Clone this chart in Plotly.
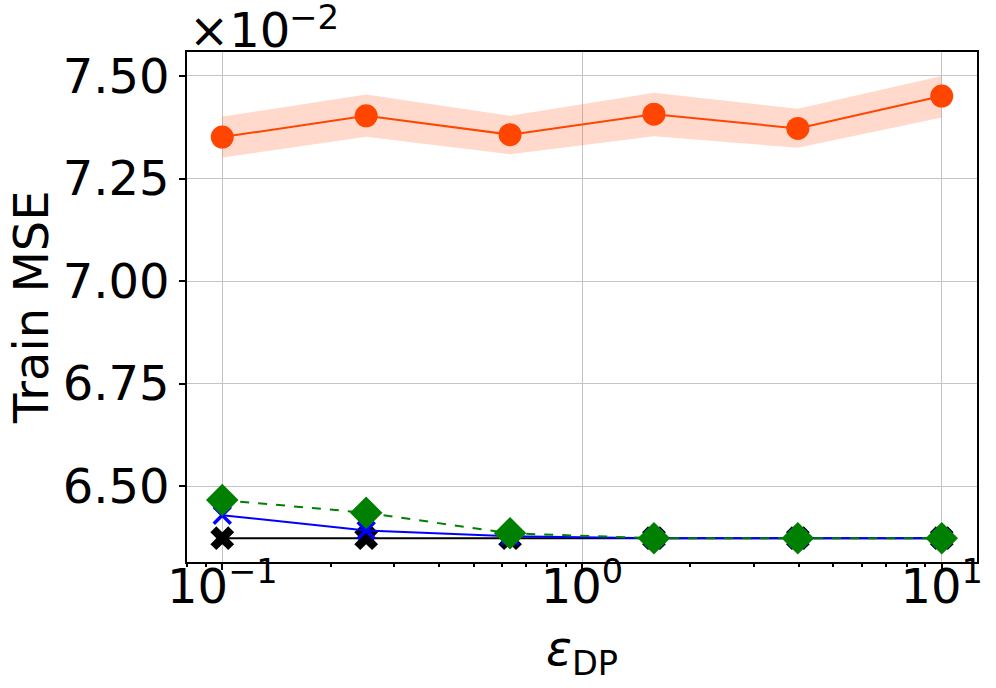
import plotly.graph_objs as go

# Visualization parameters
FONT_SIZE = 48
FIG_WIDTH = 996
FIG_HEIGHT = 688
GRID_COLOR = "#c4c4c4"

# Data (MSE in units of 1e-2)
eps_dp = [0.1, 0.2512, 0.631, 1.585, 3.981, 10.0]
mse_orange = [7.351, 7.403, 7.357, 7.407, 7.372, 7.451]
mse_orange_low = [7.301, 7.352, 7.309, 7.353, 7.325, 7.399]
mse_orange_high = [7.401, 7.455, 7.403, 7.459, 7.420, 7.500]
mse_black = [6.373, 6.373, 6.373, 6.373, 6.373, 6.373]
mse_blue = [6.429, 6.392, 6.378, 6.373, 6.373, 6.373]
mse_green = [6.466, 6.435, 6.385, 6.373, 6.373, 6.373]

y_ticks = [6.50, 6.75, 7.00, 7.25, 7.50]
x_ticks = [0.1, 1, 10]
x_tick_labels = ["10<sup>\u22121</sup>", "10<sup>0</sup>", "10<sup>1</sup>"]
x_minor = [0.08, 0.09, 0.2, 0.3, 0.4, 0.5, 0.6, 0.7, 0.8, 0.9,
           2, 3, 4, 5, 6, 7, 8, 9]


fig = go.Figure()

# shaded band for the orange series
fig.add_trace(go.Scatter(x=eps_dp, y=mse_orange_high, mode="lines",
                         line=dict(width=0), showlegend=False, hoverinfo="skip"))
fig.add_trace(go.Scatter(x=eps_dp, y=mse_orange_low, mode="lines",
                         line=dict(width=0), fill="tonexty",
                         fillcolor="rgba(255,69,0,0.2)", showlegend=False, hoverinfo="skip"))

fig.add_trace(go.Scatter(x=eps_dp, y=mse_orange, mode="lines+markers",
                         line=dict(color="#ff4500", width=2),
                         marker=dict(symbol="circle", size=23, color="#ff4500")))
fig.add_trace(go.Scatter(x=eps_dp, y=mse_black, mode="lines+markers",
                         line=dict(color="black", width=2),
                         marker=dict(symbol="x", size=21, color="black", line=dict(width=0))))
fig.add_trace(go.Scatter(x=eps_dp, y=mse_blue, mode="lines+markers",
                         line=dict(color="#0000ff", width=2),
                         marker=dict(symbol="x-thin", size=17,
                                     line=dict(color="#0000ff", width=3.5))))
fig.add_trace(go.Scatter(x=eps_dp, y=mse_green, mode="lines+markers",
                         line=dict(color="#008000", width=2, dash="dash"),
                         marker=dict(symbol="diamond", size=25, color="#008000")))

fig.update_xaxes(type="log", range=[-1.098, 1.098], automargin=False,
                 tickvals=x_ticks, ticktext=x_tick_labels, ticklabelstandoff=-24,
                 ticks="outside", ticklen=6, tickwidth=1.5, tickcolor="black",
                 minor=dict(tickvals=x_minor, ticks="outside", ticklen=3,
                            tickcolor="black", showgrid=False),
                 showgrid=True, gridcolor=GRID_COLOR, gridwidth=1,
                 showline=True, linecolor="black", linewidth=1.5, mirror=True,
                 zeroline=False)
fig.update_yaxes(range=[6.315, 7.5585], automargin=False,
                 tickvals=y_ticks, tickformat=".2f",
                 ticks="outside", ticklen=6, tickwidth=1.5, tickcolor="black",
                 showgrid=True, gridcolor=GRID_COLOR, gridwidth=1,
                 showline=True, linecolor="black", linewidth=1.5, mirror=True,
                 zeroline=False)

# axis titles
fig.add_annotation(text="Train MSE", xref="paper", yref="paper",
                   x=0, y=0.5, xanchor="center", yanchor="middle",
                   xshift=-156, textangle=-90, showarrow=False)
fig.add_annotation(text="<i>\u03b5</i><sub>DP</sub>", xref="paper", yref="paper",
                   x=0.5, y=0, xanchor="center", yanchor="middle",
                   yshift=-89, showarrow=False)

# offset multiplier x10^-2 (exponent drawn separately)
fig.add_annotation(text="\u00d710", xref="paper", yref="paper",
                   x=0, y=1, xanchor="left", yanchor="middle",
                   yshift=22, xshift=0, showarrow=False)
fig.add_annotation(text="\u22122", xref="paper", yref="paper",
                   x=0, y=1, xanchor="left", yanchor="middle",
                   yshift=35, xshift=100, showarrow=False, font=dict(size=34))

fig.update_layout(width=FIG_WIDTH, height=FIG_HEIGHT,
                  margin=dict(l=187, r=19, t=52, b=126),
                  plot_bgcolor="white", paper_bgcolor="white",
                  showlegend=False,
                  font=dict(family="DejaVu Sans", size=FONT_SIZE, color="black"))

# drop the default page margin so the figure sits at the window corner
fig.write_html("out.html", config={"displayModeBar": False},
               post_script="document.body.style.margin = '0';")
